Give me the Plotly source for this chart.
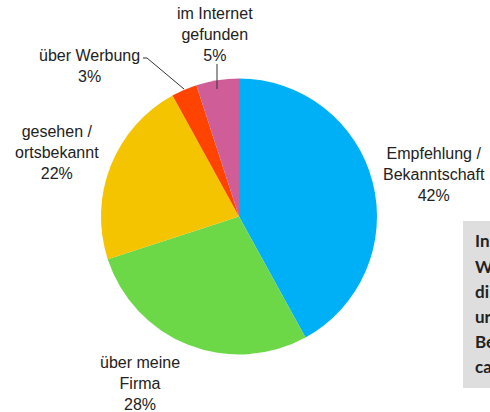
import plotly.graph_objects as go

# ---- data ----
categories = ["Empfehlung /<br>Bekanntschaft", "über meine<br>Firma", "gesehen /<br>ortsbekannt",
              "über Werbung", "im Internet<br>gefunden"]
values = [42, 28, 22, 3, 5]
colors = ["#00B0F6", "#6CD848", "#F5C400", "#FF4300", "#CF5E98"]
box_lines = ["In", "W", "di", "ur", "Be", "ca"]

W, H = 490, 412
def px(x):
    return x / W
def py(y):
    return 1 - y / H

fig = go.Figure(go.Pie(
    labels=categories, values=values, sort=False, direction="clockwise", rotation=0,
    marker=dict(colors=colors, line=dict(width=0)),
    textinfo="none", hoverinfo="label+percent", showlegend=False,
    domain=dict(x=[px(101), px(377)], y=[py(355), py(78)]),
))

# label positions (pixel centers) for each slice
label_pos = [(434, 174), (140, 383), (57, 152), (89, 66), (215, 35)]
total = sum(values)
anns = []
for cat, v, (x, y) in zip(categories, values, label_pos):
    txt = f"{cat}<br>{round(100 * v / total)}%"
    anns.append(dict(x=px(x), y=py(y), xref="paper", yref="paper", text=txt,
                     showarrow=False, xanchor="center", yanchor="middle", align="center",
                     font=dict(family="Liberation Sans, Arial", size=16, color="#222222")))

# side text box (clipped at right edge, as in the original)
for i, t in enumerate(box_lines):
    anns.append(dict(x=px(473), y=py(241 + 25 * i), xref="paper", yref="paper", text=f"<b>{t}</b>",
                     showarrow=False, xanchor="left", yanchor="middle",
                     font=dict(family="Lato, Open Sans", size=17, color="#222222")))

shapes = [
    dict(type="rect", xref="paper", yref="paper", x0=px(463), x1=px(495), y0=py(388), y1=py(221),
         fillcolor="#DEDEDE", line=dict(width=0), layer="below"),
    dict(type="path", xref="paper", yref="paper",
         path=f"M {px(143)} {py(58)} L {px(147)} {py(58)} L {px(184)} {py(89)}",
         line=dict(color="#333333", width=1)),
    dict(type="line", xref="paper", yref="paper", x0=px(217), x1=px(217), y0=py(64), y1=py(89),
         line=dict(color="#333333", width=1)),
]

fig.update_layout(width=W, height=H, margin=dict(l=0, r=0, t=0, b=0),
                  paper_bgcolor="white", plot_bgcolor="white",
                  annotations=anns, shapes=shapes)
fig.write_html("out.html")
